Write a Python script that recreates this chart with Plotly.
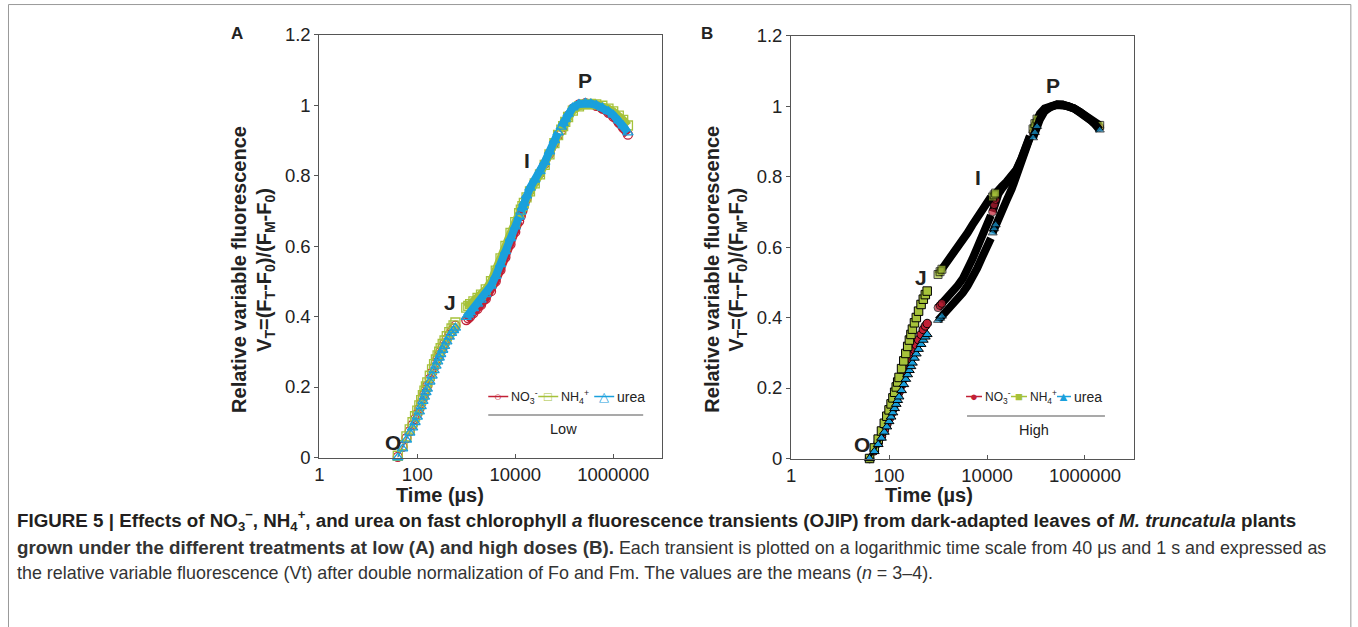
import plotly.graph_objects as go

# figure size in CSS px; the body is shifted by a small negative margin (see write_html below)
W, H = 1362, 635
# measured mapping from figure pixels to the photographed picture: X = SX*fx + OX, Y = SY*fy + OY
SX, OX = 0.9968, 0.51
SY, OY = 0.967, 3.46

# time points (µs); None marks a break between recording segments
t_fast = [40, 50, 60, 70, 80, 90, 100, 110, 120, 130, 140, 150, 160, 180, 200,
          220, 240, 260, 280, 300, 330, 360, 400, 450, 500, 550, 600]
t_slow = [1000, 1100, 1200, 1400, 1700, 2000, 2500, 3200, 4000, 5000, 6300, 8000, 10000, 12000, None,
          13000, 14000, 15000, 17000, 20000, 25000, 32000, 40000, 50000, 63000, 75000, None,
          87000, 95000, 105000, 120000, 150000, 200000, 270000, 350000, 450000, 600000, 800000,
          1000000, 1300000, 1600000, 2000000]

# Low dose (A)
no3_low_fast = [0.002, 0.03, 0.055, 0.075, 0.093, 0.109, 0.124, 0.139, 0.154, 0.168, 0.181, 0.193, 0.204,
                0.223, 0.241, 0.256, 0.269, 0.281, 0.291, 0.301, 0.313, 0.324, 0.336, 0.348, 0.358, 0.366, 0.374]
nh4_low_fast = [0.005, 0.035, 0.06, 0.08, 0.10, 0.117, 0.133, 0.148, 0.163, 0.177, 0.19, 0.202, 0.213,
                0.232, 0.25, 0.265, 0.278, 0.29, 0.30, 0.31, 0.322, 0.332, 0.344, 0.356, 0.366, 0.375, 0.383]
urea_low_fast = [0.0, 0.025, 0.05, 0.07, 0.085, 0.10, 0.115, 0.13, 0.145, 0.16, 0.172, 0.185, 0.195,
                 0.215, 0.232, 0.247, 0.26, 0.272, 0.283, 0.293, 0.305, 0.316, 0.329, 0.342, 0.353, 0.361, 0.368]
no3_low_slow = [0.39, 0.395, 0.40, 0.41, 0.422, 0.433, 0.45, 0.472, 0.50, 0.532, 0.568, 0.605, 0.64, 0.67, None,
                0.685, 0.70, 0.713, 0.735, 0.758, 0.782, 0.807, 0.833, 0.862, 0.893, 0.915, None,
                0.928, 0.94, 0.953, 0.97, 0.99, 1.002, 1.005, 1.003, 0.998, 0.99, 0.978, 0.967, 0.95, 0.935, 0.916]
nh4_low_slow = [0.425, 0.43, 0.435, 0.443, 0.453, 0.462, 0.477, 0.50, 0.53, 0.565, 0.60, 0.637, 0.668, 0.693, None,
                0.703, 0.713, 0.722, 0.738, 0.755, 0.778, 0.803, 0.83, 0.86, 0.892, 0.915, None,
                0.93, 0.94, 0.952, 0.966, 0.984, 0.996, 1.002, 1.003, 1.002, 0.998, 0.99, 0.982, 0.97, 0.958, 0.942]
urea_low_slow = [0.398, 0.405, 0.412, 0.423, 0.436, 0.447, 0.463, 0.487, 0.515, 0.548, 0.585, 0.622, 0.655, 0.683, None,
                 0.697, 0.71, 0.722, 0.743, 0.765, 0.788, 0.812, 0.838, 0.868, 0.90, 0.922, None,
                 0.938, 0.948, 0.96, 0.975, 0.993, 1.003, 1.006, 1.004, 1.0, 0.993, 0.982, 0.972, 0.956, 0.942, 0.922]

# High dose (B)
no3_high_fast = [0.0, 0.022, 0.044, 0.063, 0.08, 0.097, 0.112, 0.126, 0.14, 0.153, 0.166, 0.178, 0.189,
                 0.208, 0.226, 0.243, 0.258, 0.271, 0.283, 0.294, 0.309, 0.322, 0.337, 0.352, 0.366, 0.376, 0.383]
nh4_high_fast = [0.0, 0.03, 0.055, 0.078, 0.10, 0.12, 0.138, 0.155, 0.172, 0.188, 0.203, 0.217, 0.23,
                 0.255, 0.277, 0.298, 0.318, 0.336, 0.352, 0.367, 0.385, 0.40, 0.418, 0.437, 0.452, 0.465, 0.475]
urea_high_fast = [0.0, 0.02, 0.04, 0.058, 0.075, 0.09, 0.105, 0.118, 0.13, 0.142, 0.154, 0.165, 0.175,
                  0.193, 0.21, 0.225, 0.238, 0.25, 0.261, 0.271, 0.285, 0.297, 0.31, 0.324, 0.336, 0.345, 0.352]
no3_high_slow = [0.428, 0.434, 0.44, 0.45, 0.463, 0.475, 0.49, 0.51, 0.535, 0.565, 0.598, 0.635, 0.668, 0.69, None,
                 0.70, 0.72, 0.735, 0.75, 0.765, 0.78, 0.797, 0.818, 0.848, 0.883, 0.912, None,
                 0.925, 0.94, 0.955, 0.972, 0.99, 1.0, 1.004, 1.004, 1.0, 0.993, 0.983, 0.974, 0.962, 0.952, 0.94]
nh4_high_slow = [0.522, 0.53, 0.537, 0.548, 0.561, 0.574, 0.595, 0.618, 0.64, 0.662, 0.685, 0.708, 0.728, 0.742, None,
                 0.742, 0.748, 0.753, 0.762, 0.772, 0.785, 0.80, 0.82, 0.85, 0.885, 0.915, None,
                 0.935, 0.95, 0.963, 0.978, 0.993, 1.002, 1.005, 1.004, 1.0, 0.993, 0.983, 0.975, 0.963, 0.955, 0.945]
urea_high_slow = [0.392, 0.398, 0.404, 0.414, 0.426, 0.437, 0.452, 0.47, 0.49, 0.512, 0.54, 0.572, 0.60, 0.625, None,
                  0.64, 0.652, 0.663, 0.68, 0.702, 0.732, 0.765, 0.80, 0.845, 0.885, 0.91, None,
                  0.91, 0.925, 0.942, 0.962, 0.985, 0.998, 1.003, 1.003, 1.0, 0.993, 0.983, 0.973, 0.96, 0.948, 0.932]

x_ticks = [1, 100, 10000, 1000000]

RED, GREEN, BLUE = '#c22035', '#a6c23a', '#1aa0dc'
FONT = 'Arial, Liberation Sans, sans-serif'


# picture pixel -> paper fraction
def px(X):
    return (X - OX) / SX / W


def py(Y):
    return 1 - (Y - OY) / SY / H


def head_sizes(ts, n=3, size=8):
    # markers only where the recorded points are still sparse (segment starts) and at the end
    sizes, k = [], 0
    for t in ts:
        if t is None:
            sizes.append(0)
            k = 0
            continue
        sizes.append(size if k < n else 0)
        k += 1
    sizes[-1] = size
    return sizes


fig = go.Figure()


def add_low(fast, slow, color, symbol):
    mk = dict(symbol=symbol + '-open', size=9, color=color, line=dict(width=1.3, color=color))
    fig.add_trace(go.Scatter(x=t_fast, y=fast, xaxis='x', yaxis='y', mode='lines+markers',
                             line=dict(color=color, width=1), marker=mk, cliponaxis=False, showlegend=False))
    fig.add_trace(go.Scatter(x=t_slow, y=slow, xaxis='x', yaxis='y', mode='lines+markers',
                             line=dict(color=color, width=8), marker=mk, cliponaxis=False, showlegend=False))


def add_high(fast, slow, color, symbol):
    fig.add_trace(go.Scatter(x=t_fast, y=fast, xaxis='x2', yaxis='y2', mode='lines+markers',
                             line=dict(color='black', width=2),
                             marker=dict(symbol=symbol, size=8.5, color=color, line=dict(width=1, color='black')),
                             cliponaxis=False, showlegend=False))
    sizes = head_sizes(t_slow)
    fig.add_trace(go.Scatter(x=t_slow, y=slow, xaxis='x2', yaxis='y2', mode='lines+markers',
                             line=dict(color='black', width=8),
                             marker=dict(symbol=symbol, size=sizes, color=color,
                                         line=dict(width=[1 if s else 0 for s in sizes], color='black')),
                             cliponaxis=False, showlegend=False))


add_low(no3_low_fast, no3_low_slow, RED, 'circle')
add_low(nh4_low_fast, nh4_low_slow, GREEN, 'square')
add_low(urea_low_fast, urea_low_slow, BLUE, 'triangle-up')
add_high(no3_high_fast, no3_high_slow, RED, 'circle')
add_high(nh4_high_fast, nh4_high_slow, GREEN, 'square')
add_high(urea_high_fast, urea_high_slow, BLUE, 'triangle-up')

xcommon = dict(type='log', range=[0, 7], tickvals=x_ticks, ticktext=[str(v) for v in x_ticks],
               ticks='inside', ticklen=4, tickcolor='#555', showline=True, mirror=True, linecolor='#555',
               linewidth=1, showgrid=False, zeroline=False, tickfont=dict(family=FONT, size=18.5, color='#222'))
ycommon = dict(range=[0, 1.2], dtick=0.2, ticks='outside', ticklen=4, tickcolor='#555', showline=True,
               mirror=True, linecolor='#555', linewidth=1, showgrid=False, zeroline=False,
               tickfont=dict(family=FONT, size=18.5, color='#222'))

fig.update_layout(
    width=W, height=H, margin=dict(l=0, r=0, t=0, b=0),
    paper_bgcolor='white', plot_bgcolor='white',
    xaxis=dict(domain=[px(319), px(662)], anchor='y', **xcommon),
    yaxis=dict(domain=[py(458), py(35)], anchor='x', **ycommon),
    xaxis2=dict(domain=[px(791), px(1134)], anchor='y2', **xcommon),
    yaxis2=dict(domain=[py(459), py(36)], anchor='x2', **ycommon),
)

ann = []


def text(x, y, s, size, xanchor='center', color='#222', angle=0, family=FONT):
    ann.append(dict(x=px(x), y=py(y), xref='paper', yref='paper', text=s, showarrow=False,
                    xanchor=xanchor, yanchor='middle', textangle=angle,
                    font=dict(family=family, size=size, color=color)))


# panel letters
text(237, 34, '<b>A</b>', 17)
text(707, 34, '<b>B</b>', 17)

# OJIP step labels
for (x, y, s) in [(393, 443, 'O'), (450, 303, 'J'), (527, 161, 'I'), (585, 81, 'P'),
                  (862, 445, 'O'), (921, 278, 'J'), (978, 178, 'I'), (1053, 86, 'P')]:
    text(x, y, '<b>%s</b>' % s, 21)

# axis titles
for (x0, x1, xt) in [(238, 265, 440), (711, 737, 929)]:
    text(x0, 270, '<b>Relative variable fluorescence</b>', 20, angle=-90)
    text(x1, 270, '<b>V<sub>T</sub>=(F<sub>T</sub>-F<sub>0</sub>)/(F<sub>M</sub>-F<sub>0</sub>)</b>', 20, angle=-90)
    text(xt, 495, '<b>Time (µs)</b>', 20)

# legends
shapes = []


def key(x0, x1, y, color, glyph, label, lcolor, size=12.5):
    shapes.append(dict(type='line', xref='paper', yref='paper', x0=px(x0), x1=px(x1), y0=py(y), y1=py(y),
                       line=dict(color=lcolor, width=1.5)))
    text((x0 + x1) / 2, y, '<span style="color:%s">%s</span>' % (color, glyph), 13)
    text(x1 + 1, y, label, size, xanchor='left')


NO3 = 'NO<sub>3</sub><sup>-</sup>'
NH4 = 'NH<sub>4</sub><sup>+</sup>'
key(488, 508, 397, RED, '○', NO3, RED)
key(538, 558, 397, GREEN, '□', NH4, GREEN)
key(594, 614, 397, BLUE, '△', 'urea', BLUE, 14)
shapes.append(dict(type='line', xref='paper', yref='paper', x0=px(488), x1=px(643), y0=py(415.5),
                   y1=py(415.5), line=dict(color='#555', width=1.2)))
text(563, 429, 'Low', 14.5)

key(966, 982, 397, RED, '●', NO3, RED, 12)
key(1011, 1027, 397, GREEN, '■', NH4, GREEN, 12)
key(1057, 1071, 397, BLUE, '▲', 'urea', BLUE, 14)
shapes.append(dict(type='line', xref='paper', yref='paper', x0=px(967), x1=px(1105), y0=py(416.5),
                   y1=py(416.5), line=dict(color='#555', width=1.2)))
text(1034, 430, 'High', 14.5)

# outer frame (its bottom edge lies below the picture)
shapes.append(dict(type='rect', xref='paper', yref='paper', x0=px(8), x1=px(1351), y0=-0.2, y1=py(5),
                   line=dict(color='#999', width=1)))

# caption
cap1 = ('<b>FIGURE 5 | Effects of NO<sub>3</sub><sup>−</sup>, NH<sub>4</sub><sup>+</sup>, and urea on fast '
        'chlorophyll <i>a</i> fluorescence transients (OJIP) from dark-adapted leaves of '
        '<i>M. truncatula</i> plants</b>')
cap2 = ('<span style="font-size:18.75px"><b>grown under the different treatments at low (A) and high doses (B).'
        '</b></span> Each transient is plotted '
        'on a logarithmic time scale from 40 μs and 1 s and expressed as')
cap3 = ('the relative variable fluorescence (Vt) after double normalization of Fo and Fm. '
        'The values are the means (<i>n</i> = 3–4).')
text(15, 521, cap1, 18.75, xanchor='left', color='#231f20')
text(15, 548, cap2, 17.9, xanchor='left', color='#333')
text(15, 574, cap3, 17.9, xanchor='left', color='#333')

fig.update_layout(annotations=ann, shapes=shapes)

fig.write_html("out.html", config={'displayModeBar': False},
               post_script="document.body.style.margin='-8px 0 0 -4px';"
                           "document.documentElement.style.overflow='hidden';")
